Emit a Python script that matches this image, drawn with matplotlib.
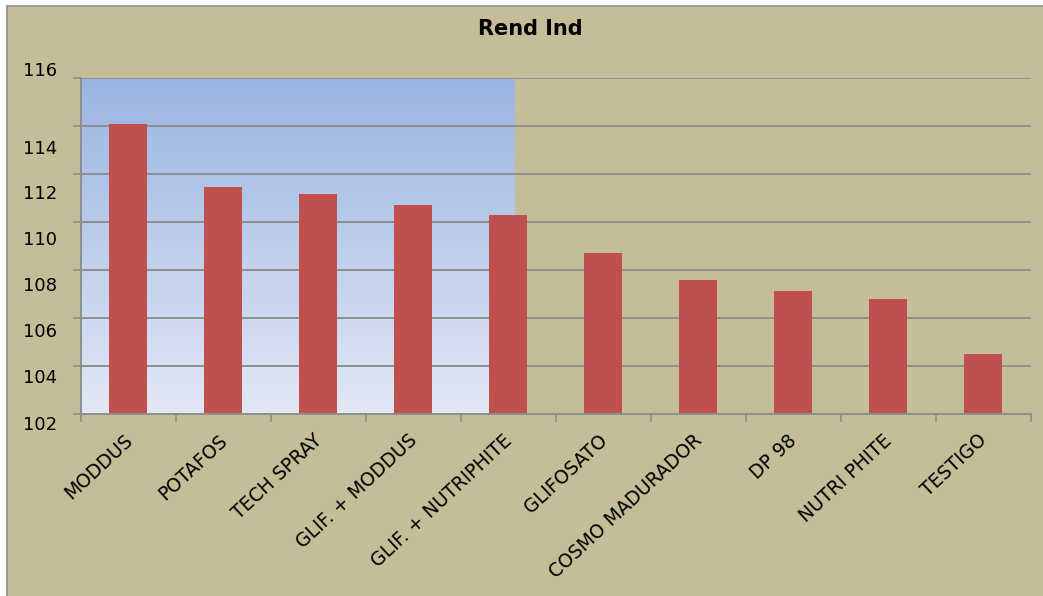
import matplotlib
matplotlib.use("Agg")
import matplotlib.pyplot as plt
import matplotlib.transforms as mtransforms
from matplotlib.patches import Rectangle
from matplotlib.colors import LinearSegmentedColormap
import numpy as np

# ---- data ----
categories = ["MODDUS", "POTAFOS", "TECH SPRAY", "GLIF. + MODDUS", "GLIF. + NUTRIPHITE",
              "GLIFOSATO", "COSMO MADURADOR", "DP 98", "NUTRI PHITE", "TESTIGO"]
values = [114.08, 111.46, 111.17, 110.71, 110.29, 108.71, 107.58, 107.13, 106.79, 104.50]
y_ticks = [102, 104, 106, 108, 110, 112, 114, 116]
title = "Rend Ind"

# ---- style ----
W, H, DPI = 1043, 596, 100
tan = "#C4BD97"
bar_color = "#C0504D"
grid_color = "#8E8E8E"

fig = plt.figure(figsize=(W / DPI, H / DPI), dpi=DPI, facecolor="white")
fig.patches.append(Rectangle((7 / W, -0.1), 1.2, 1.1 - 6 / H, transform=fig.transFigure,
                             facecolor=tan, edgecolor=grid_color, linewidth=1.2, zorder=-5))

ax = fig.add_axes([81 / W, 1 - 414 / H, (1030.7 - 81) / W, (414 - 78) / H])
ax.set_zorder(2)
ax.set_facecolor("none")

# blue gradient panel
cmap = LinearSegmentedColormap.from_list("g", ["#E2E8F5", "#9AB4E2"])
grad = np.linspace(0, 1, 256).reshape(-1, 1)
ax.imshow(grad, cmap=cmap, origin="lower", aspect="auto",
          extent=[0, 0.456, 0, 1], transform=ax.transAxes, zorder=0)

x = np.arange(len(categories))
ax.bar(x, [v - y_ticks[0] for v in values], bottom=y_ticks[0], width=0.4,
       color=bar_color, zorder=2)

ax.set_xlim(-0.5, len(categories) - 0.5)
ax.set_ylim(y_ticks[0], y_ticks[-1])
ax.set_yticks(y_ticks)
ax.set_yticklabels([str(t) for t in y_ticks])
ax.yaxis.grid(True, color=grid_color, linewidth=1.4)
ax.set_axisbelow(True)

for s in ["top", "right"]:
    ax.spines[s].set_visible(False)
for s in ["left", "bottom"]:
    ax.spines[s].set_color(grid_color)
    ax.spines[s].set_linewidth(1.4)

ax.tick_params(axis="y", direction="out", length=5.5, width=1.2, color=grid_color,
               labelsize=13, pad=11.5, labelcolor="black")
# Excel-like label placement offsets (px, downward)
y_offsets_px = [8.7, 10, 12, 14, 16, 17.7, 20.7, -9]
for lab, off in zip(ax.get_yticklabels(), y_offsets_px):
    lab.set_transform(lab.get_transform() +
                      mtransforms.ScaledTranslation(0, -off / DPI, fig.dpi_scale_trans))

ax.set_xticks(x)
ax.set_xticklabels(categories)
ax.set_xticks(np.arange(-0.5, len(categories)), minor=True)
ax.tick_params(axis="x", which="major", length=0, pad=17, labelsize=13.5)
ax.tick_params(axis="x", which="minor", direction="out", length=5.5, width=1.2, color=grid_color)
for lab in ax.get_xticklabels():
    lab.set_rotation(43)
    lab.set_rotation_mode("anchor")
    lab.set_ha("right")
    lab.set_va("center")
    lab.set_transform(lab.get_transform() +
                      mtransforms.ScaledTranslation(1 / DPI, 0, fig.dpi_scale_trans))

fig.text(530.5 / W, 1 - 29 / H, title, ha="center", va="center",
         fontsize=15, fontweight="bold", color="black")

fig.savefig("out.png", dpi=DPI, facecolor="white")
